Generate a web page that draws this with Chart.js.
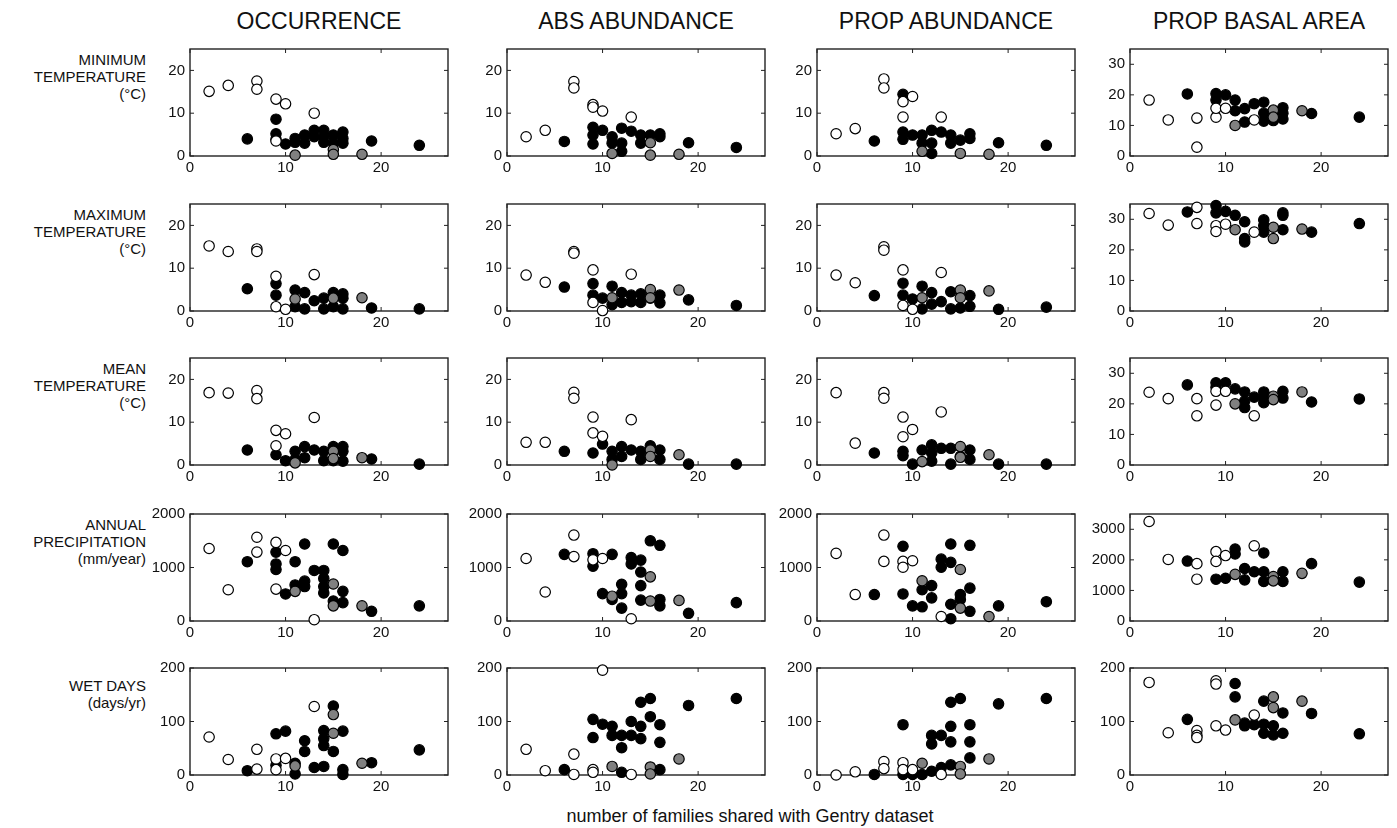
<!DOCTYPE html>
<html>
<head>
<meta charset="utf-8">
<script src="https://cdn.jsdelivr.net/npm/chart.js@4.4.0/dist/chart.umd.min.js"></script>
<style>
  body { margin:0; background:#fff; width:1397px; height:828px; position:relative; overflow:hidden;
         font-family:"Liberation Sans", Arial, Helvetica, sans-serif; color:#111; }
  canvas { position:absolute; }
  .title { position:absolute; top:8px; width:340px; text-align:center; font-size:23px; line-height:26px; }
  .rowlab { position:absolute; right:1251px; text-align:right; font-size:15px; line-height:17px; white-space:nowrap; }
  .xlab { position:absolute; top:806px; left:450px; width:600px; text-align:center; font-size:18px; }
</style>
</head>
<body>
<script>
// x axis: number of families shared with Gentry dataset
const xTicks = [0, 10, 20];
const tempTicks = [0, 10, 20];
const basalTempTicks = [0, 10, 20, 30];
const precTicks = [0, 1000, 2000];
const basalPrecTicks = [0, 1000, 2000, 3000];
const wetTicks = [0, 100, 200];

const colTitles = ['OCCURRENCE', 'ABS ABUNDANCE', 'PROP ABUNDANCE', 'PROP BASAL AREA'];
const rowLabels = [
  ['MINIMUM', 'TEMPERATURE', '(°C)'],
  ['MAXIMUM', 'TEMPERATURE', '(°C)'],
  ['MEAN', 'TEMPERATURE', '(°C)'],
  ['ANNUAL', 'PRECIPITATION', '(mm/year)'],
  ['WET DAYS', '(days/yr)']
];

// minimum temperature
const tminOccOpen = [[2,15.1],[4,16.5],[7,17.5],[7,15.6],[9,13.3],[10,12.2],[13,10],[9,3.5]];
const tminOccBlack = [[6,4],[9,8.6],[9,5.2],[9,3.9],[10,2.8],[11,4.1],[11,3.2],[12,4.9],[12,3],[13,6],[13,4.5],[14,6],[14,4.5],[14,3.2],[15,4.9],[15,3],[16,5.6],[16,4.1],[16,3],[19,3.5],[24,2.5]];
const tminOccGray = [[11,0.2],[15,1.5],[15,0.4],[18,0.4]];
const tminAbsOpen = [[2,4.5],[4,6],[7,17.4],[7,15.9],[9,12],[9,11.4],[10,10.5],[13,9.1]];
const tminAbsBlack = [[6,3.4],[9,6.7],[9,4.9],[9,2.8],[10,6],[11,4.5],[11,3],[12,6.5],[12,3],[12,1.1],[13,5.8],[14,4.9],[14,3],[15,4.9],[16,5.2],[16,4.5],[19,3.1],[24,2]];
const tminAbsGray = [[11,0.6],[15,3.1],[15,0.2],[18,0.4]];
const tminPropOpen = [[2,5.2],[4,6.4],[7,18],[7,15.9],[9,12.7],[9,9.1],[10,13.9],[13,9.1]];
const tminPropBlack = [[6,3.5],[9,14.4],[9,5.6],[9,3.9],[10,4.9],[11,4.9],[11,3],[12,6],[12,3],[12,0.6],[13,5.6],[14,4.9],[14,3],[15,3.7],[16,5.2],[16,4.1],[19,3.1],[24,2.5]];
const tminPropGray = [[11,1.1],[15,0.6],[18,0.4]];
const tminBasalOpen = [[2,18.3],[4,11.8],[7,12.4],[7,2.9],[9,12.7],[9,15.6],[10,15.6],[13,11.8]];
const tminBasalBlack = [[6,20.3],[9,20.4],[9,18.3],[10,20],[11,18.3],[11,14.8],[12,15.5],[12,11.1],[13,17.1],[14,17.6],[14,14],[14,11.4],[15,11.6],[16,15.8],[16,14],[16,12.1],[19,13.9],[24,12.7]];
const tminBasalGray = [[11,10],[15,15],[15,12.7],[18,14.8]];

// maximum temperature
const tmaxOccOpen = [[2,15.2],[4,13.9],[7,14.5],[7,13.9],[9,8.1],[9,1],[10,0.4],[13,8.5]];
const tmaxOccBlack = [[6,5.2],[9,6.4],[9,3.7],[11,4.9],[11,1],[12,4.3],[12,0.5],[13,2.4],[14,3],[14,0.5],[15,4.3],[15,1],[16,4],[16,3],[16,0.5],[19,0.7],[24,0.5]];
const tmaxOccGray = [[11,2.8],[15,3],[18,3.1]];
const tmaxAbsOpen = [[2,8.4],[4,6.7],[7,13.9],[7,13.5],[9,9.6],[9,2],[10,0.1],[13,8.6]];
const tmaxAbsBlack = [[6,5.6],[9,6.4],[9,3.7],[10,3],[11,5.8],[11,1.5],[12,4.3],[12,2],[13,3.7],[13,2.2],[14,4],[14,2],[15,3],[16,3.7],[16,1.9],[19,2.6],[24,1.3]];
const tmaxAbsGray = [[11,3.1],[15,5],[15,3.1],[18,4.9]];
const tmaxPropOpen = [[2,8.4],[4,6.6],[7,15],[7,14.2],[9,9.6],[9,1.3],[10,0.4],[13,9]];
const tmaxPropBlack = [[6,3.6],[9,6.5],[9,3.7],[10,2.8],[11,5.8],[11,0.5],[12,4.3],[12,1.6],[13,2.2],[14,4.5],[14,0.5],[15,0.7],[16,3.6],[16,1.1],[19,0.4],[24,0.9]];
const tmaxPropGray = [[11,3.1],[15,4.9],[15,3.1],[18,4.7]];
const tmaxBasalOpen = [[2,31.9],[4,28.1],[7,33.9],[7,28.6],[9,27.9],[9,26],[10,28.4],[13,25.8]];
const tmaxBasalBlack = [[6,32.4],[9,34.5],[9,32.1],[10,32.6],[11,31.3],[12,29.2],[12,23.7],[12,22.6],[14,29.8],[14,27.9],[14,25.8],[16,32.1],[16,31.3],[16,26.6],[19,25.8],[24,28.6]];
const tmaxBasalGray = [[11,26.6],[15,27.4],[15,23.7],[18,26.8]];

// mean temperature
const tmeanOccOpen = [[2,16.9],[4,16.8],[7,17.4],[7,15.5],[9,8.1],[9,4.5],[10,7.3],[13,11.1]];
const tmeanOccBlack = [[6,3.5],[9,2.4],[10,1],[11,3.2],[11,1.3],[12,4.3],[12,1.7],[13,3.5],[14,3.2],[14,1],[15,4.3],[15,1],[16,4.3],[16,3.2],[16,0.9],[19,1.4],[24,0.2]];
const tmeanOccGray = [[11,0.5],[15,3.2],[15,1.5],[18,1.7]];
const tmeanAbsOpen = [[2,5.3],[4,5.3],[7,17],[7,15.6],[9,11.2],[9,7.5],[10,6.7],[13,10.6]];
const tmeanAbsBlack = [[6,3.2],[9,2.8],[10,4.9],[11,3.2],[11,1.3],[12,4.3],[12,2],[13,3.5],[14,3.2],[14,1.3],[15,4.5],[16,3.5],[16,1.3],[19,0.2],[24,0.2]];
const tmeanAbsGray = [[11,0],[15,3.5],[15,2],[18,2.4]];
const tmeanPropOpen = [[2,16.9],[4,5.1],[7,16.9],[7,15.6],[9,11.2],[9,6.6],[10,8.3],[13,12.4]];
const tmeanPropBlack = [[6,2.8],[9,3.2],[9,2.2],[10,0.2],[11,3.5],[12,4.7],[12,2.8],[12,0.9],[13,3.9],[14,3.9],[14,0.2],[15,2],[16,3.5],[16,1.3],[19,0.2],[24,0.2]];
const tmeanPropGray = [[11,0.8],[15,4.3],[15,1.8],[18,2.4]];
const tmeanBasalOpen = [[2,23.8],[4,21.7],[7,21.7],[7,16.1],[9,19.6],[9,24.1],[10,24.1],[13,16.1]];
const tmeanBasalBlack = [[6,26.2],[9,26.9],[9,25.4],[10,26.9],[11,24.9],[12,23.9],[12,20.9],[12,18.8],[13,22.2],[14,23.9],[14,21.9],[14,20.4],[16,24.1],[16,21.9],[19,20.6],[24,21.6]];
const tmeanBasalGray = [[11,20],[15,22.5],[15,21.4],[18,23.9]];

// annual precipitation
const precOccOpen = [[2,1355],[4,584],[7,1565],[7,1288],[9,1469],[9,596],[10,1318],[13,24]];
const precOccBlack = [[6,1108],[9,1288],[9,1066],[9,963],[10,506],[11,1108],[11,674],[12,1439],[12,746],[12,644],[13,945],[14,945],[14,795],[14,644],[14,524],[15,1439],[15,373],[16,1318],[16,554],[16,343],[19,181],[24,283]];
const precOccGray = [[11,554],[15,692],[15,283],[18,283]];
const precAbsOpen = [[2,1168],[4,542],[7,1607],[7,1204],[9,1144],[10,1168],[13,42]];
const precAbsBlack = [[6,1246],[9,1258],[9,1023],[10,512],[11,1246],[11,403],[12,686],[12,512],[12,241],[13,1186],[13,1066],[14,1138],[14,915],[14,662],[14,391],[15,1499],[16,1415],[16,403],[16,283],[19,144],[24,343]];
const precAbsGray = [[11,464],[15,825],[15,373],[18,385]];
const precPropOpen = [[2,1264],[4,494],[7,1607],[7,1114],[9,1114],[9,1005],[10,1126],[13,84]];
const precPropBlack = [[6,494],[9,1397],[9,506],[10,283],[11,265],[11,584],[12,662],[12,433],[13,1156],[13,1005],[14,1439],[14,1096],[14,313],[14,42],[15,494],[15,403],[16,1415],[16,614],[16,181],[19,283],[24,361]];
const precPropGray = [[11,752],[15,963],[15,241],[18,84]];
const precBasalOpen = [[2,3254],[4,2014],[7,1876],[7,1367],[9,2268],[9,1950],[10,2141],[13,2459]];
const precBasalBlack = [[6,1961],[9,1367],[10,1399],[11,2353],[11,2194],[12,1717],[12,1346],[13,1611],[14,2226],[14,1611],[14,1293],[15,1400],[16,1611],[16,1293],[19,1876],[24,1272]];
const precBasalGray = [[11,1526],[15,1452],[15,1314],[18,1558]];

// wet days
const wetOccOpen = [[2,71],[4,29],[7,48],[7,11],[9,30],[9,10],[10,31],[13,128]];
const wetOccBlack = [[6,8],[9,77],[9,18],[10,82],[11,22],[11,2],[12,64],[12,44],[13,14],[14,83],[14,68],[14,55],[14,16],[15,129],[15,44],[16,82],[16,10],[16,1],[19,23],[24,47]];
const wetOccGray = [[11,17],[15,113],[15,78],[18,22]];
const wetAbsOpen = [[2,48],[4,8],[7,39],[7,1],[9,10],[9,5],[10,196],[13,1]];
const wetAbsBlack = [[6,10],[9,104],[9,70],[10,95],[11,91],[11,74],[12,74],[12,51],[12,5],[13,100],[13,74],[14,136],[14,91],[14,68],[15,143],[15,109],[16,94],[16,61],[16,10],[19,130],[24,143]];
const wetAbsGray = [[11,16],[15,15],[15,2],[18,30]];
const wetPropOpen = [[2,0],[4,6],[7,25],[7,12],[9,23],[9,10],[10,10],[13,1]];
const wetPropBlack = [[6,1],[9,94],[9,1],[10,1],[11,1],[12,74],[12,58],[12,7],[13,74],[13,14],[14,136],[14,91],[14,62],[14,19],[15,143],[16,94],[16,62],[16,32],[19,133],[24,143]];
const wetPropGray = [[11,22],[15,16],[15,2],[18,30]];
const wetBasalOpen = [[2,173],[4,79],[7,83],[7,74],[7,70],[9,176],[9,170],[9,92],[10,84],[13,112]];
const wetBasalBlack = [[6,104],[11,171],[11,146],[12,92],[12,97],[13,94],[14,138],[14,95],[14,78],[15,92],[15,75],[16,116],[16,78],[19,115],[24,77]];
const wetBasalGray = [[11,103],[15,146],[15,126],[18,138]];

const panels = [
  [[tminOccOpen,tminOccBlack,tminOccGray],[tminAbsOpen,tminAbsBlack,tminAbsGray],[tminPropOpen,tminPropBlack,tminPropGray],[tminBasalOpen,tminBasalBlack,tminBasalGray]],
  [[tmaxOccOpen,tmaxOccBlack,tmaxOccGray],[tmaxAbsOpen,tmaxAbsBlack,tmaxAbsGray],[tmaxPropOpen,tmaxPropBlack,tmaxPropGray],[tmaxBasalOpen,tmaxBasalBlack,tmaxBasalGray]],
  [[tmeanOccOpen,tmeanOccBlack,tmeanOccGray],[tmeanAbsOpen,tmeanAbsBlack,tmeanAbsGray],[tmeanPropOpen,tmeanPropBlack,tmeanPropGray],[tmeanBasalOpen,tmeanBasalBlack,tmeanBasalGray]],
  [[precOccOpen,precOccBlack,precOccGray],[precAbsOpen,precAbsBlack,precAbsGray],[precPropOpen,precPropBlack,precPropGray],[precBasalOpen,precBasalBlack,precBasalGray]],
  [[wetOccOpen,wetOccBlack,wetOccGray],[wetAbsOpen,wetAbsBlack,wetAbsGray],[wetPropOpen,wetPropBlack,wetPropGray],[wetBasalOpen,wetBasalBlack,wetBasalGray]]
];

// y axis per row: [max, ticks] for the first three columns and for PROP BASAL AREA
const rowAxes = [
  [[25, tempTicks], [35, basalTempTicks]],
  [[25, tempTicks], [35, basalTempTicks]],
  [[25, tempTicks], [35, basalTempTicks]],
  [[2000, precTicks], [3500, basalPrecTicks]],
  [[200, wetTicks], [200, wetTicks]]
];

// page layout (plot boxes)
const colLeft = [190, 507, 817, 1130];
const rowTop = [45, 200, 354, 510, 664];
const labelDrop = [6, 6, 6, 6, 13];
const boxW = 258, boxH = 111;
const padL = 56, padT = 10, padR = 8, padB = 24;

const font = { family: '"Liberation Sans", Arial, Helvetica, sans-serif', size: 15 };

// matlab style box with inward ticks
const boxPlugin = {
  id: 'box',
  beforeDatasetsDraw(chart) {
    const { ctx, chartArea: a, scales } = chart;
    ctx.save();
    ctx.strokeStyle = '#222';
    ctx.lineWidth = 1.4;
    ctx.strokeRect(a.left, a.top, a.right - a.left, a.bottom - a.top);
    ctx.lineWidth = 1;
    ctx.beginPath();
    scales.x.ticks.forEach(t => {
      const p = scales.x.getPixelForValue(t.value);
      ctx.moveTo(p, a.bottom); ctx.lineTo(p, a.bottom - 4);
      ctx.moveTo(p, a.top); ctx.lineTo(p, a.top + 4);
    });
    scales.y.ticks.forEach(t => {
      const p = scales.y.getPixelForValue(t.value);
      ctx.moveTo(a.left, p); ctx.lineTo(a.left + 4, p);
      ctx.moveTo(a.right, p); ctx.lineTo(a.right - 4, p);
    });
    ctx.stroke();
    ctx.restore();
  }
};

function dataset(pts, fill, order) {
  return {
    data: pts.map(p => ({ x: p[0], y: p[1] })),
    backgroundColor: fill,
    borderColor: '#000',
    borderWidth: 1.2,
    pointRadius: 5.2,
    pointHoverRadius: 5.2,
    clip: false,
    order: order
  };
}

colTitles.forEach((t, c) => {
  const d = document.createElement('div');
  d.className = 'title';
  d.textContent = t;
  d.style.left = (colLeft[c] + boxW / 2 - 170) + 'px';
  document.body.appendChild(d);
});

rowLabels.forEach((lines, r) => {
  const d = document.createElement('div');
  d.className = 'rowlab';
  d.innerHTML = lines.join('<br>');
  d.style.top = (rowTop[r] + labelDrop[r]) + 'px';
  document.body.appendChild(d);
});

const xl = document.createElement('div');
xl.className = 'xlab';
xl.textContent = 'number of families shared with Gentry dataset';
document.body.appendChild(xl);

panels.forEach((row, r) => {
  row.forEach((series, c) => {
    const [yMax, yTicks] = rowAxes[r][c === 3 ? 1 : 0];
    const cv = document.createElement('canvas');
    const w = boxW + padL + padR, h = boxH + padT + padB;
    cv.width = w; cv.height = h;
    cv.style.left = (colLeft[c] - padL) + 'px';
    cv.style.top = (rowTop[r] - padT) + 'px';
    cv.style.width = w + 'px'; cv.style.height = h + 'px';
    document.body.appendChild(cv);

    new Chart(cv, {
      type: 'scatter',
      data: {
        datasets: [
          dataset(series[1], '#000000', 3),
          dataset(series[2], '#808080', 2),
          dataset(series[0], '#ffffff', 1)
        ]
      },
      options: {
        responsive: false,
        animation: false,
        events: [],
        layout: { padding: { top: padT, right: padR, left: 0, bottom: 0 } },
        plugins: { legend: { display: false }, tooltip: { enabled: false } },
        scales: {
          x: {
            type: 'linear', min: 0, max: 27,
            afterBuildTicks: s => { s.ticks = xTicks.map(v => ({ value: v })); },
            afterFit: s => { s.height = padB; },
            grid: { display: false, drawTicks: false },
            border: { display: false },
            ticks: { color: '#111', font: font, padding: 3, maxRotation: 0, callback: v => String(v) }
          },
          y: {
            type: 'linear', min: 0, max: yMax,
            afterBuildTicks: s => { s.ticks = yTicks.map(v => ({ value: v })); },
            afterFit: s => { s.width = padL; },
            grid: { display: false, drawTicks: false },
            border: { display: false },
            ticks: { color: '#111', font: font, padding: 5, callback: v => String(v) }
          }
        }
      },
      plugins: [boxPlugin]
    });
  });
});
</script>
</body>
</html>
